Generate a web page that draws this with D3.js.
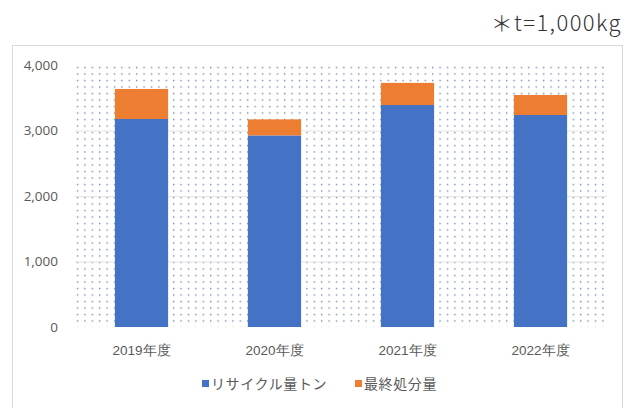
<!DOCTYPE html>
<html>
<head>
<meta charset="utf-8">
<script src="https://cdn.jsdelivr.net/npm/d3@7"></script>
<style>
  body { margin: 0; background: #fff; }
  svg { display: block; font-family: "Noto Sans CJK JP", "Noto Sans", sans-serif; }
</style>
</head>
<body>
<svg id="chart" width="627" height="408"></svg>
<script>
// Annual recycling vs. final disposal (tonnes)
const years = ["2019年度", "2020年度", "2021年度", "2022年度"];
const recycled = [3176, 2925, 3389, 3237];
const disposed = [458, 245, 338, 305];
const yTicks = [0, 1000, 2000, 3000, 4000];
const seriesNames = ["リサイクル量トン", "最終処分量"];
const seriesColors = ["#4472C4", "#ED7D31"];

const svg = d3.select("#chart");

// unit note
svg.append("text")
  .attr("x", 622).attr("y", 31)
  .attr("text-anchor", "end")
  .attr("font-size", 22)
  .attr("font-weight", 300)
  .attr("fill", "#333")
  .attr("letter-spacing", "1.4")
  .text("＊t=1,000kg");

// chart frame
svg.append("rect")
  .attr("x", 12.5).attr("y", 45.5)
  .attr("width", 610).attr("height", 380)
  .attr("fill", "#fff")
  .attr("stroke", "#d9d9d9");

const plot = { left: 75, right: 607, top: 65, bottom: 327 };

const x = d3.scaleBand().domain(years)
  .range([plot.left, plot.right]).paddingInner(0.6).paddingOuter(0.3);
const y = d3.scaleLinear().domain([0, 4000]).range([plot.bottom, plot.top]);

// dotted plot-area fill
const defs = svg.append("defs");
const pat = defs.append("pattern")
  .attr("id", "dots").attr("patternUnits", "userSpaceOnUse")
  .attr("width", 7.4).attr("height", 6.5)
  .attr("x", plot.left).attr("y", plot.top);
pat.append("circle").attr("cx", 2.5).attr("cy", 2.5).attr("r", 0.8).attr("fill", "#7d8fb0");

svg.append("rect")
  .attr("x", plot.left).attr("y", plot.top)
  .attr("width", plot.right - plot.left).attr("height", plot.bottom - plot.top)
  .attr("fill", "url(#dots)");

// gridlines
svg.append("g").selectAll("line").data(yTicks.slice(1, -1)).join("line")
  .attr("x1", plot.left).attr("x2", plot.right)
  .attr("y1", d => y(d) + 0.5).attr("y2", d => y(d) + 0.5)
  .attr("stroke", "#e4e4e4");

// y axis labels
const yAxis = svg.append("g")
  .attr("transform", `translate(${plot.left},0)`)
  .call(d3.axisLeft(y).tickValues(yTicks).tickFormat(d3.format(",")).tickSize(0).tickPadding(17));
yAxis.select(".domain").remove();
yAxis.selectAll("text").attr("font-size", 13.5).attr("fill", "#595959")
  .attr("font-family", "'Open Sans', 'Noto Sans', sans-serif");

// x axis labels
const xAxis = svg.append("g")
  .attr("transform", `translate(0,${plot.bottom})`)
  .call(d3.axisBottom(x).tickSize(0).tickPadding(18));
xAxis.select(".domain").remove();
xAxis.selectAll("text").attr("font-size", 13.5).attr("fill", "#595959");

// stacked bars
const rows = years.map((yr, i) => ({ year: yr, recycled: recycled[i], disposed: disposed[i] }));
const stack = d3.stack().keys(["recycled", "disposed"])(rows);

svg.append("g").selectAll("g").data(stack).join("g")
  .attr("fill", (d, i) => seriesColors[i])
  .selectAll("rect").data(d => d).join("rect")
  .attr("x", d => x(d.data.year))
  .attr("width", x.bandwidth())
  .attr("y", d => y(d[1]))
  .attr("height", d => y(d[0]) - y(d[1]));

// legend
const legend = svg.append("g").attr("transform", "translate(202,389)");
const legendOffsets = [0, 153];
seriesNames.forEach((name, i) => {
  const g = legend.append("g").attr("transform", `translate(${legendOffsets[i]},0)`);
  g.append("rect").attr("x", 0).attr("y", -9).attr("width", 7).attr("height", 7)
    .attr("fill", seriesColors[i]);
  g.append("text").attr("x", 9).attr("y", 0)
    .attr("font-size", 14).attr("letter-spacing", "0.6").attr("fill", "#595959").text(name);
});
</script>
</body>
</html>
